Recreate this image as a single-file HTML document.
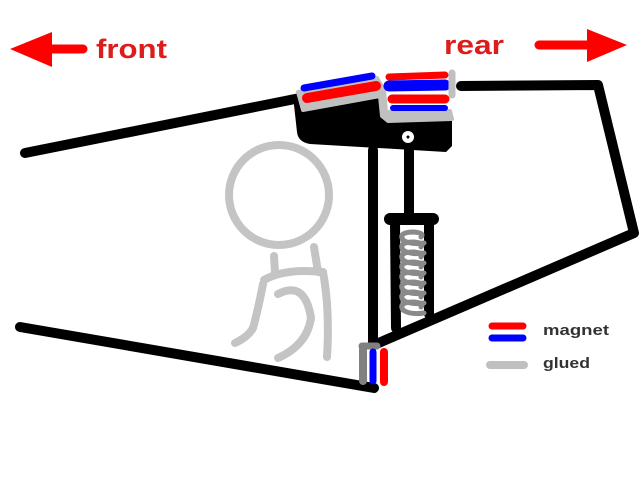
<!DOCTYPE html>
<html><head><meta charset="utf-8"><style>html,body{margin:0;padding:0;background:#fff}svg{display:block}</style></head>
<body>
<svg width="640" height="480" viewBox="0 0 640 480" xmlns="http://www.w3.org/2000/svg">
<rect width="640" height="480" fill="#fff"/>
<g fill="#f00" stroke="#f00" stroke-linecap="round">
<line x1="40" y1="49" x2="83" y2="49" stroke-width="9"/>
<polygon points="10,49 52,32 52,67" stroke="none"/>
<line x1="539" y1="45" x2="590" y2="45" stroke-width="9"/>
<polygon points="627,45 587,29 587,62" stroke="none"/>
</g>
<text x="96" y="58" font-family="Liberation Sans, sans-serif" font-weight="bold" font-size="27" fill="#dd1c1c" textLength="71" lengthAdjust="spacingAndGlyphs">front</text>
<text x="444" y="54" font-family="Liberation Sans, sans-serif" font-weight="bold" font-size="27" fill="#dd1c1c" textLength="60" lengthAdjust="spacingAndGlyphs">rear</text>
<g fill="none" stroke="#c4c4c4" stroke-width="8" stroke-linecap="round">
<circle cx="279" cy="195" r="50"/>
<line x1="274" y1="256" x2="275" y2="272"/>
<line x1="314" y1="247" x2="318" y2="272"/>
<path d="M264,280 Q285,268 323,272"/>
<path d="M323,272 Q330,310 327,357"/>
<path d="M263,284 Q258,310 253,328 Q248,337 235,343"/>
<path d="M278,294 Q305,280 311,318 Q307,345 278,358"/>
</g>
<g fill="none" stroke="#000" stroke-width="10" stroke-linecap="round" stroke-linejoin="round">
<line x1="25" y1="153" x2="300" y2="98"/>
<polyline points="461,86 598,85 634,233 374,345"/>
<line x1="20" y1="327" x2="374" y2="388"/>
<line x1="373" y1="150" x2="373" y2="345"/>
<line x1="409" y1="148" x2="409" y2="218"/>
<line x1="390" y1="219" x2="433" y2="219" stroke-width="12"/>
<line x1="395" y1="222" x2="396" y2="328"/>
<line x1="429" y1="222" x2="429" y2="314"/>
</g>
<g fill="none" stroke="#8a8a8a" stroke-width="5" stroke-linecap="round">
<path d="M403,240 Q398,232 414,232 Q425,233 421,237"/><path d="M403,240 Q410,245 424,243"/>
<path d="M403,250 Q398,242 414,242 Q425,243 421,247"/><path d="M403,250 Q410,255 424,253"/>
<path d="M403,260 Q398,252 414,252 Q425,253 421,257"/><path d="M403,260 Q410,265 424,263"/>
<path d="M403,270 Q398,262 414,262 Q425,263 421,267"/><path d="M403,270 Q410,275 424,273"/>
<path d="M403,280 Q398,272 414,272 Q425,273 421,277"/><path d="M403,280 Q410,285 424,283"/>
<path d="M403,290 Q398,282 414,282 Q425,283 421,287"/><path d="M403,290 Q410,295 424,293"/>
<path d="M403,300 Q398,292 414,292 Q425,293 421,297"/><path d="M403,300 Q410,305 424,303"/>
<path d="M403,310 Q398,302 414,302 Q425,303 421,307"/><path d="M403,310 Q410,315 424,313"/>
</g>
<path d="M293,96 L382,88 L385,118 L452,117 L452,146 L446,152 L310,144 Q298,142 297,132 Z" fill="#000"/>
<path d="M298,92 L377,78 L384,90 L386,112 L450,111 L452,119 L388,121 L382,116 L380,96 L303,110 Z" fill="#c0c0c0" stroke="#c0c0c0" stroke-width="4" stroke-linejoin="round"/>
<line x1="304" y1="88" x2="372" y2="76" stroke="#00f" stroke-width="7" stroke-linecap="round"/>
<line x1="307" y1="98" x2="376" y2="86" stroke="#f00" stroke-width="10" stroke-linecap="round"/>
<line x1="389" y1="77" x2="445" y2="75" stroke="#f00" stroke-width="7" stroke-linecap="round"/>
<line x1="389" y1="86" x2="445" y2="85" stroke="#00f" stroke-width="11" stroke-linecap="round"/>
<line x1="452" y1="73" x2="452" y2="95" stroke="#c0c0c0" stroke-width="7" stroke-linecap="round"/>
<line x1="392" y1="99" x2="445" y2="99" stroke="#f00" stroke-width="9" stroke-linecap="round"/>
<line x1="393" y1="108" x2="445" y2="108" stroke="#00f" stroke-width="6" stroke-linecap="round"/>
<circle cx="408" cy="137" r="6" fill="#fff"/>
<circle cx="408" cy="137" r="1.5" fill="#000"/>
<g stroke-linecap="round" fill="none">
<line x1="363" y1="347" x2="363" y2="381" stroke="#808080" stroke-width="8"/>
<line x1="362" y1="346" x2="377" y2="346" stroke="#808080" stroke-width="7"/>
<line x1="373" y1="352" x2="373" y2="381" stroke="#00f" stroke-width="7"/>
<line x1="384" y1="352" x2="384" y2="382" stroke="#f00" stroke-width="8"/>
</g>
<g stroke-linecap="round">
<line x1="492" y1="326" x2="523" y2="326" stroke="#f00" stroke-width="7"/>
<line x1="492" y1="338" x2="523" y2="338" stroke="#00f" stroke-width="7"/>
<line x1="490" y1="365" x2="524" y2="365" stroke="#c0c0c0" stroke-width="8"/>
</g>
<text x="543" y="335" font-family="Liberation Sans, sans-serif" font-weight="bold" font-size="15" fill="#333" textLength="66" lengthAdjust="spacingAndGlyphs">magnet</text>
<text x="543" y="368" font-family="Liberation Sans, sans-serif" font-weight="bold" font-size="15" fill="#333" textLength="47" lengthAdjust="spacingAndGlyphs">glued</text>
</svg>
</body></html>
